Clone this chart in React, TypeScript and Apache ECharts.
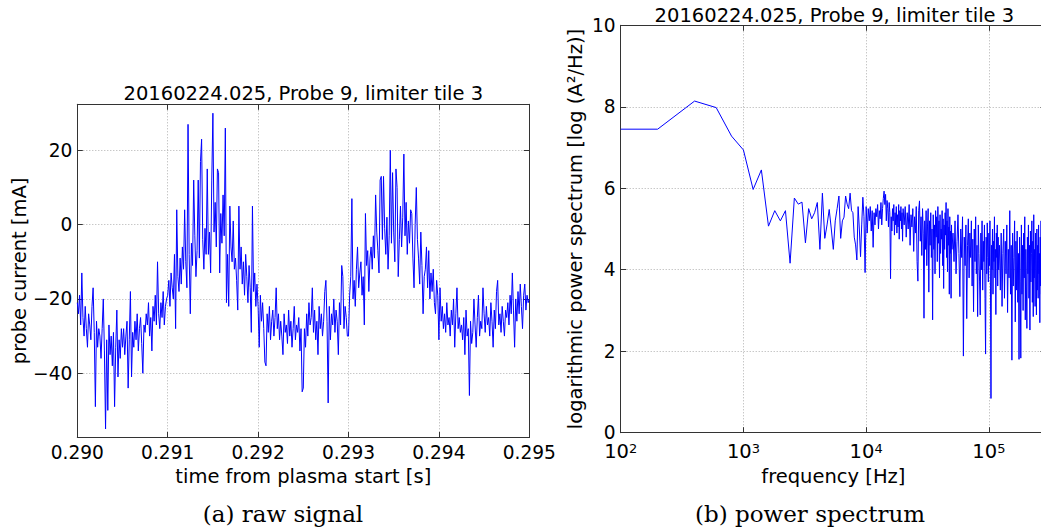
import React, { useEffect, useRef } from "react";
import * as echarts from "echarts";

const TITLE = "20160224.025, Probe 9, limiter tile 3";
const CAPTION_A = "(a) raw signal";
const CAPTION_B = "(b) power spectrum";

// raw signal: start time, sample step (s), rows of 20 samples (0.25 ms each), in mA
const T0 = 0.29;
const DT = 0.0000125;
const signalRows: number[][] = [
  [-21, -24, -19, -27, -13, -25, -30, -22, -28, -33, -24, -27, -31, -22, -17, -29, -49, -26, -33, -28],
  [-30, -36, -28, -20, -34, -55, -31, -50, -27, -35, -30, -38, -29, -49, -33, -23, -41, -31, -36, -28],
  [-33, -28, -35, -30, -26, -44, -31, -18, -41, -29, -33, -26, -31, -24, -34, -28, -25, -32, -40, -27],
  [-29, -24, -27, -21, -30, -25, -34, -22, -26, -19, -27, -10, -24, -28, -21, -25, -18, -27, -22, -20],
  [-19, -15, -22, -13, -17, -20, -8, -28, 4, -14, -18, -9, -16, -6, -12, 4, -10, -17, 27, -8],
  [-24, -5, -11, 12, -3, -14, -7, 12, -9, 17, 23, -4, -12, -1, -8, 15, -8, -2, -13, 12],
  [30, -2, 6, -6, 15, 14, -13, 3, -5, 8, -3, 26, -21, -8, -22, 5, -6, -10, 1, -12],
  [-9, -15, -23, 5, -12, -6, -16, -10, -19, -8, -14, -21, -11, -17, -29, 5, -18, -13, -22, -16],
  [-22, -33, -19, -26, -21, -28, -37, -38, -24, -29, -22, -31, -26, -23, -30, -25, -17, -28, -24, -31],
  [-26, -30, -35, -24, -29, -27, -32, -23, -30, -26, -33, -28, -22, -31, -27, -29, -25, -34, -28, -45],
  [-44, -28, -33, -24, -30, -21, -27, -25, -17, -29, -23, -31, -26, -35, -22, -28, -24, -30, -26, -18],
  [-15, -26, -48, -22, -31, -24, -27, -20, -29, -23, -26, -35, -21, -27, -11, -14, -28, -22, -25, -30],
  [-30, -19, -14, 7, -20, -15, -22, -12, -6, -17, -13, -10, -19, -14, -27, 3, -11, -7, -18, -9],
  [-6, -12, -3, -9, 8, -2, -7, -13, 12, 13, -4, 13, -1, -8, 2, -12, -3, 20, -5, 14],
  [-2, -10, 15, 10, -14, -4, 5, -6, 2, 19, -3, 6, -8, 1, -5, 4, 3, -9, -17, 0],
  [10, -4, -9, -16, -2, -11, -24, -14, -12, -6, -17, -7, -20, -13, -18, -12, -21, -24, -15, -19],
  [-31, -17, -26, -22, -28, -24, -29, -21, -27, -25, -30, -23, -27, -20, -33, -24, -17, -28, -25, -29],
  [-27, -31, -25, -35, -23, -30, -28, -46, -26, -32, -29, -20, -27, -33, -25, -19, -30, -26, -28, -17],
  [-24, -29, -22, -27, -25, -30, -21, -26, -33, -23, -28, -18, -15, -27, -24, -29, -22, -26, -30, -23],
  [-25, -21, -27, -19, -24, -13, -23, -33, -20, -26, -18, -24, -16, -22, -28, -19, -16, -23, -19, -21],
];
const signalLast = -20;

// power spectrum: log10 power per frequency band (start Hz, step Hz, values)
const specEdge = { freq: 100, value: 7.45 };
const band1 = { start: 200, step: 200, values: [
  7.45, 8.14, 7.98, 7.28, 6.94, 5.97, 6.45, 5.07, 5.45, 5.2,
  5.45, 4.16, 5.76, 5.61, 5.66, 4.66, 5.5, 5.25, 5.4, 5.65,
  4.5, 5.88, 4.77, 5.1, 5.48, 5.0, 4.5, 5.2, 5.5, 5.81,
  4.77, 5.2, 5.29, 5.81, 5.61, 5.5, 5.88, 5.45, 5.4, 4.8,
  4.61, 4.24, 5.55, 5.0, 4.32, 5.1, 5.78, 5.3, 3.93, 5.55,
] };
const band2 = { start: 10200, step: 200, values: [
  4.9, 5.5, 5.2, 5.55, 4.95, 5.45, 4.55, 5.4, 5.1, 5.5,
  5.3, 5.6, 5.0, 5.45, 5.25, 5.65, 5.1, 5.5, 5.75, 5.93,
  5.6, 5.85, 5.2, 5.7, 5.5, 5.05, 5.65, 5.4, 3.78, 5.3,
  4.95, 5.5, 5.2, 5.6, 4.85, 5.4, 5.1, 5.55, 4.9, 5.35,
  5.05, 5.6, 4.75, 5.45, 5.2, 5.55, 5.0, 5.4, 4.7, 5.5,
] };
const band3 = { start: 20400, step: 400, values: [
  5.1, 5.55, 4.8, 5.4, 5.0, 5.6, 4.6, 5.35, 5.05, 5.5,
  4.45, 5.3, 4.9, 5.55, 4.2, 3.72, 5.45, 5.69, 4.7, 5.3,
  4.35, 5.5, 4.9, 2.81, 5.2, 4.5, 5.45, 4.1, 5.05, 5.5,
  3.45, 5.2, 4.6, 5.4, 4.3, 5.0, 2.77, 5.35, 4.5, 5.1,
  3.9, 5.45, 4.8, 5.3, 4.2, 5.55, 4.65, 5.2, 3.8, 5.35,
  4.4, 5.0, 4.75, 5.45, 4.1, 5.25, 3.54, 5.1, 4.5, 5.4,
  4.85, 5.65, 4.3, 5.2, 3.95, 5.5, 4.6, 5.05, 3.4, 5.3,
  4.4, 4.95, 3.3, 5.1, 4.5,
] };
const band4 = { start: 51000, step: 1000, values: [
  4.9, 4.2, 5.2, 3.9, 4.7, 5.35, 4.4, 3.34, 5.0, 4.3,
  5.3, 1.88, 4.8, 4.1, 5.1, 2.8, 4.6, 5.25, 3.8, 4.9,
  4.3, 5.2, 3.6, 4.75, 2.97, 5.0, 4.2, 5.3, 3.9, 4.6,
  2.85, 5.1, 4.4, 3.7, 2.89, 4.9, 4.0, 5.2, 3.5, 4.7,
  4.2, 5.1, 3.3, 1.93, 4.8, 3.9, 5.15, 4.3, 3.7, 4.9,
  4.1, 5.2, 3.6, 0.84, 4.6, 4.0, 5.0, 3.4, 4.7, 4.2,
  5.3, 3.8, 4.5, 2.9, 4.9, 4.3, 5.1, 3.6, 4.8, 4.0,
] };
const band5 = { start: 122000, step: 2000, values: [
  4.6, 3.5, 4.9, 3.1, 4.4, 5.0, 3.3, 4.7, 3.9, 5.1,
  2.95, 4.5, 3.8, 5.45, 3.4, 4.6, 1.78, 4.9, 3.6, 4.3,
  5.2, 2.72, 4.7, 3.5, 4.95, 3.2, 4.4, 1.8, 4.8, 3.7,
  1.83, 5.1, 3.4, 4.6, 3.0, 4.9, 3.8, 5.3, 2.77, 4.5,
  3.6, 2.56, 4.8, 3.9, 5.1, 3.3, 4.6, 2.52, 4.95, 3.7,
  4.4, 5.2, 3.2, 4.7, 2.85, 5.35, 3.8, 4.5, 3.1, 4.9,
  4.0, 2.89, 5.0, 3.5, 4.6, 3.3, 5.1, 3.9, 4.4, 2.7,
  4.8, 3.6, 5.2, 3.4, 4.5, 4.0, 5.0, 2.9, 4.7, 3.7,
  5.3, 3.5, 4.4, 4.9, 3.2, 4.6,
] };

const X1_TICKS = { min: 0.29, max: 0.295, step: 0.001 };
const Y1_RANGE = { min: -57.3, max: 32.4, step: 20 };
const X2_RANGE = { min: 100, max: 292000 };
const Y2_TICKS = { min: 0, max: 10, step: 2 };

const FONT = "DejaVu Sans";
const AXIS_COLOR = "#333";
const GRID_LINE = { color: "#9a9a9a", type: [1, 2] as any, width: 0.8 };

function buildSignal(): [number, number][] {
  const flat: number[] = [];
  signalRows.forEach((r) => flat.push(...r));
  flat.push(signalLast);
  return flat.map((v, i) => [T0 + i * DT, v]);
}

function buildSpectrum(): [number, number][] {
  const out: [number, number][] = [[specEdge.freq, specEdge.value]];
  [band1, band2, band3, band4, band5].forEach((b) => {
    b.values.forEach((v, i) => out.push([b.start + i * b.step, v]));
  });
  return out;
}

const minus = (s: string) => s.replace("-", "\u2212");

export default function App() {
  const ref = useRef<HTMLDivElement>(null);
  useEffect(() => {
    if (!ref.current) return;
    const chart = echarts.init(ref.current, undefined, { renderer: "svg" });
    const W = 1049;
    const H = 531;
    const g1 = { left: 77.3, right: W - 529.3, top: 104.3, bottom: H - 437.5 };
    const g2 = { left: 620.7, right: W - 1048.1, top: 25.3, bottom: H - 432.7 };
    const tick = { inside: true, length: 5.5, lineStyle: { color: AXIS_COLOR } };
    const line = { onZero: false, lineStyle: { color: AXIS_COLOR, width: 1 } };
    const nameStyle = { fontSize: 19.5, fontFamily: FONT, color: "#000" };
    const labelBase = { fontSize: 18.6, fontFamily: FONT, color: "#000" };
    const logFmt = (v: number) => {
      const e = Math.log10(v);
      const r = Math.round(e);
      if (Math.abs(e - r) > 1e-6) return "";
      return "10{sup|" + r + "}";
    };
    const option: any = {
      animation: false,
      grid: [
        { ...g1, containLabel: false },
        { ...g2, containLabel: false },
      ],
      xAxis: [
        {
          type: "value", gridIndex: 0, position: "bottom",
          min: X1_TICKS.min, max: X1_TICKS.max, interval: X1_TICKS.step,
          axisLine: line, axisTick: tick,
          axisLabel: { ...labelBase, margin: 5, formatter: (v: number) => v.toFixed(3) },
          splitLine: { show: true, lineStyle: GRID_LINE },
          name: "time from plasma start [s]", nameLocation: "middle", nameGap: 21,
          nameTextStyle: nameStyle,
        },
        {
          type: "value", gridIndex: 0, position: "top",
          min: X1_TICKS.min, max: X1_TICKS.max, interval: X1_TICKS.step,
          axisLine: line, axisTick: tick, axisLabel: { show: false }, splitLine: { show: false },
        },
        {
          type: "log", logBase: 10, gridIndex: 1, position: "bottom",
          min: X2_RANGE.min, max: X2_RANGE.max,
          axisLine: line, axisTick: tick,
          axisLabel: {
            ...labelBase, fontSize: 19.5, margin: 9, formatter: logFmt,
            rich: { sup: { fontSize: 13, fontFamily: FONT, color: "#000", verticalAlign: "top" } },
          },
          splitLine: { show: true, lineStyle: GRID_LINE },
          name: "frequency [Hz]", nameLocation: "middle", nameGap: 27,
          nameTextStyle: nameStyle,
        },
        {
          type: "log", logBase: 10, gridIndex: 1, position: "top",
          min: X2_RANGE.min, max: X2_RANGE.max,
          axisLine: line, axisTick: tick, axisLabel: { show: false }, splitLine: { show: false },
        },
      ],
      yAxis: [
        {
          type: "value", gridIndex: 0, position: "left",
          min: Y1_RANGE.min, max: Y1_RANGE.max,
          axisLine: line, axisTick: tick,
          axisLabel: {
            ...labelBase, margin: 5,
            formatter: (v: number) => (Math.abs(v % Y1_RANGE.step) < 1e-6 ? minus(String(v)) : ""),
          },
          splitLine: { show: true, lineStyle: GRID_LINE },
          name: "probe current [mA]", nameLocation: "middle", nameGap: 47,
          nameTextStyle: nameStyle,
        },
        {
          type: "value", gridIndex: 0, position: "right",
          min: Y1_RANGE.min, max: Y1_RANGE.max,
          axisLine: line, axisTick: tick, axisLabel: { show: false }, splitLine: { show: false },
        },
        {
          type: "value", gridIndex: 1, position: "left",
          min: Y2_TICKS.min, max: Y2_TICKS.max, interval: Y2_TICKS.step,
          axisLine: line, axisTick: tick,
          axisLabel: { ...labelBase, margin: 5, lineHeight: 13, padding: [0, 0, 4, 0] },
          splitLine: { show: true, lineStyle: GRID_LINE },
          name: "logarithmic power spectrum [log (A\u00b2/Hz)]", nameLocation: "middle", nameGap: 35,
          nameTextStyle: nameStyle,
        },
        {
          type: "value", gridIndex: 1, position: "right",
          min: Y2_TICKS.min, max: Y2_TICKS.max, interval: Y2_TICKS.step,
          axisLine: line, axisTick: tick, axisLabel: { show: false }, splitLine: { show: false },
        },
      ],
      series: [
        {
          type: "line", xAxisIndex: 0, yAxisIndex: 0, data: buildSignal(),
          showSymbol: false, symbol: "none", lineStyle: { color: "#0000ff", width: 1 },
          emphasis: { disabled: true },
        },
        {
          type: "line", xAxisIndex: 2, yAxisIndex: 2, data: buildSpectrum(),
          showSymbol: false, symbol: "none", lineStyle: { color: "#0000ff", width: 1 },
          emphasis: { disabled: true },
        },
      ],
      graphic: [
        { type: "text", x: 303.3, y: 93.3, style: { text: TITLE, align: "center", verticalAlign: "middle", fontSize: 19.5, fontFamily: FONT, fill: "#000" } },
        { type: "text", x: 834.4, y: 15, style: { text: TITLE, align: "center", verticalAlign: "middle", fontSize: 19.5, fontFamily: FONT, fill: "#000" } },
        { type: "text", x: 283, y: 514, style: { text: CAPTION_A, align: "center", verticalAlign: "middle", fontSize: 23, fontFamily: "DejaVu Serif", fill: "#000" } },
        { type: "text", x: 810, y: 514, style: { text: CAPTION_B, align: "center", verticalAlign: "middle", fontSize: 23, fontFamily: "DejaVu Serif", fill: "#000" } },
      ],
    };
    chart.setOption(option);
    return () => chart.dispose();
  }, []);
  return (
    <div style={{ position: "fixed", left: 0, top: 0, width: 1041, height: 531, overflow: "hidden", background: "#fff" }}>
      <div ref={ref} style={{ width: 1049, height: 531 }} />
    </div>
  );
}
